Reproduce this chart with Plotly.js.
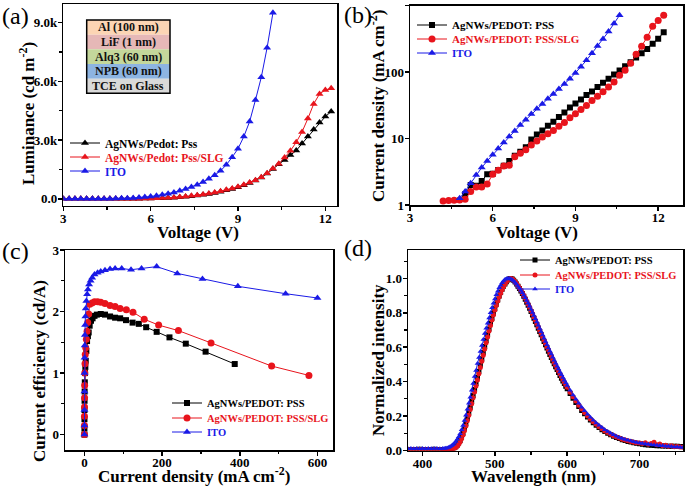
<!DOCTYPE html>
<html><head><meta charset="utf-8">
<script src="https://cdn.plot.ly/plotly-3.0.1.min.js"></script>
<style>html,body{margin:0;padding:0;background:#fff}#chart{width:685px;height:487px}</style>
</head><body><div id="chart"></div>
<script>
// ---------- (a) Luminance vs Voltage ----------
const aVoltage = [3.0,3.2,3.4,3.6,3.8,4.0,4.2,4.4,4.6,4.8,5.0,5.2,5.4,5.6,5.8,6.0,6.2,6.4,6.6,6.8,7.0,7.2,7.4,7.6,7.8,8.0,8.2,8.4,8.6,8.8,9.0,9.2,9.4,9.6,9.8,10.0,10.2,10.4,10.6,10.8,11.0,11.2,11.4,11.6,11.8,12.0,12.2];
const aLumPss = [0,0,0,0,0,0,0,0,0,0, 2,4,6,9,13,18,25,34,46,61,80,105,135,168,205,250,300,365,435,505,590,690,810,935,1090,1290,1530,1770,1990,2245,2466,2824,3181,3538,3895,4200,4457];
const aLumSlg = [0,0,0,0,0,0,0,0,0,0, 3,5,8,11,16,22,30,40,53,70,90,118,153,187,221,272,323,391,459,527,612,714,834,953,1106,1310,1548,1786,2110,2450,2892,3419,4100,4848,5358,5560,5647];
const aVoltageIto = [3.0,3.2,3.4,3.6,3.8,4.0,4.2,4.4,4.6,4.8,5.0,5.2,5.4,5.6,5.8,6.0,6.2,6.4,6.6,6.8,7.0,7.2,7.4,7.6,7.8,8.0,8.2,8.4,8.6,8.8,9.0,9.2,9.4,9.6,9.8,10.0,10.2];
const aLumIto = [0,0,0,0,0,2,4,6,9,13,25,35,48,65,90,120,160,205,260,330,410,500,600,720,860,1030,1210,1430,1740,2130,2560,3180,3950,5050,6210,7720,9500];
const layerNames = ['Al (100 nm)','LiF (1 nm)','Alq3 (60 nm)','NPB (60 nm)','TCE on Glass'];
const layerColors = ['#fcd5b4','#e6b8b7','#c4d79b','#8db4e2','#d9d9d9'];

// ---------- (b) Current density vs Voltage ----------
const bVoltagePss = [5.0,5.2,5.4,5.6,5.8,6.0,6.2,6.4,6.6,6.8,7.0,7.2,7.4,7.6,7.8,8.0,8.2,8.4,8.6,8.8,9.0,9.2,9.4,9.6,9.8,10.0,10.2,10.4,10.6,10.8,11.0,11.2,11.4,11.6,11.8,12.0,12.2];
const bJPss = [1.45,2.0,1.95,2.3,2.9,2.95,3.35,3.9,4.6,5.5,6.3,7.4,9.7,11.5,13.2,15.5,17.8,21,24.6,29.3,33.7,38.7,45,51,59.4,69,79,92,105,122,140,165,192,222,265,317,395];
const bVoltageSlg = [4.2,4.4,4.6,4.8,5.0,5.2,5.4,5.6,5.8,6.0,6.2,6.4,6.6,6.8,7.0,7.2,7.4,7.6,7.8,8.0,8.2,8.4,8.6,8.8,9.0,9.2,9.4,9.6,9.8,10.0,10.2,10.4,10.6,10.8,11.0,11.2,11.4,11.6,11.8,12.0,12.2];
const bJSlg = [1.15,1.17,1.18,1.19,1.22,1.6,1.87,1.87,2.07,2.9,3.33,3.87,3.96,5.3,6.0,6.75,8.0,9.2,10.5,11.8,13.2,15.3,17.4,20.5,23.5,27.4,31.4,37.4,43,50.5,59.4,70.6,89,106,135,185,244,333,488,594,715];
const bVoltageIto = [4.8,5.0,5.2,5.4,5.6,5.8,6.0,6.2,6.4,6.6,6.8,7.0,7.2,7.4,7.6,7.8,8.0,8.2,8.4,8.6,8.8,9.0,9.2,9.4,9.6,9.8,10.0,10.2,10.4,10.6];
const bJIto = [1.26,1.6,2.12,2.83,3.65,4.6,5.7,7.07,8.7,10.7,13,15.9,19.1,23.3,28,33,39.7,46.6,55.4,66,79,97,120,150,192,245,314,405,537,715];
const bTickVals = [1,10,100,1000];
const bTickText = ['1','10','100','1k'];

// ---------- (c) Current efficiency vs Current density ----------
const cJPss = [0.02,0.05,0.1,0.2,0.35,0.6,1.0,1.6,2.4,3.4,5,6.8,9,11,13.5,17,21,26,32,42,53,66,79,92,107,124,140,159,186,219,261,312,387];
const cEffPss = [0.0,0.1,0.25,0.4,0.55,0.7,0.85,1.0,1.1,1.2,1.36,1.52,1.6,1.66,1.77,1.85,1.89,1.93,1.95,1.96,1.95,1.92,1.90,1.89,1.86,1.82,1.80,1.745,1.67,1.58,1.478,1.348,1.147];
const cJSlg = [0.02,0.05,0.1,0.2,0.35,0.6,1.0,1.5,2.2,3.4,5,6.8,8.5,11,13.5,19.5,26,34,42,53,66,79,92,108,125,154,191,242,326,482,578];
const cEffSlg = [0.0,0.15,0.3,0.45,0.6,0.8,1.0,1.15,1.3,1.41,1.55,1.68,1.82,1.96,2.12,2.14,2.16,2.16,2.15,2.13,2.10,2.08,2.05,2.03,1.99,1.875,1.78,1.69,1.49,1.114,0.962];
const cJIto = [0.02,0.05,0.1,0.2,0.3,0.5,0.8,1.2,1.8,2.5,3.5,5,7,9,12,16,20,26,34,42,53,66,79,96,120,147,186,239,304,395,518,600];
const cEffIto = [0.0,0.15,0.4,0.7,1.0,1.25,1.45,1.62,1.78,1.92,2.05,2.17,2.28,2.36,2.44,2.5,2.55,2.6,2.63,2.65,2.67,2.69,2.70,2.70,2.68,2.70,2.73,2.62,2.53,2.41,2.29,2.22];

// ---------- (d) Normalized EL spectra ----------
const dWavelength = [380,384,388,392,396,400,404,408,412,416,420,424,428,
 430,432,434,436,438,440,442,444,446,448,
 450,452,454,456,458,460,462,464,466,468,
 470,472,474,476,478,480,482,484,486,488,
 490,492,494,496,498,500,502,504,506,508,
 510,512,514,516,518,520,522,524,526,528,
 530,532,534,536,538,540,542,544,546,548,
 550,552,554,556,558,560,562,564,566,568,
 570,572,574,576,578,580,582,584,586,588,
 590,592,594,596,598,600,
 604,608,612,616,620,624,628,632,636,640,
 644,648,652,656,660,664,668,672,676,680,
 684,688,692,696,700,704,708,712,716,720,
 724,728,732,736,740,744,748,752,756,760];
const dIntPss = [0.006,0.006,0.005,0.006,0.007,0.006,0.005,0.006,0.006,0.007,0.006,0.005,0.006,
 0.006,0.006,0.006,0.007,0.008,0.009,0.012,0.016,0.022,0.031,
 0.043,0.058,0.077,0.100,0.126,0.155,0.186,0.219,0.252,0.286,
 0.320,0.355,0.390,0.425,0.461,0.497,0.533,0.569,0.604,0.639,
 0.673,0.706,0.738,0.768,0.797,0.824,0.850,0.874,0.897,0.918,
 0.937,0.954,0.968,0.980,0.990,0.997,1.000,0.996,0.989,0.979,
 0.968,0.955,0.942,0.927,0.912,0.896,0.879,0.862,0.844,0.826,
 0.807,0.788,0.769,0.750,0.730,0.711,0.691,0.672,0.652,0.633,
 0.614,0.595,0.576,0.558,0.540,0.522,0.504,0.487,0.470,0.453,
 0.436,0.420,0.404,0.389,0.374,0.359,
 0.331,0.304,0.279,0.255,0.233,0.213,0.194,0.177,0.161,0.146,
 0.133,0.121,0.110,0.100,0.091,0.083,0.076,0.069,0.063,0.058,
 0.053,0.049,0.045,0.042,0.039,0.036,0.034,0.032,0.030,0.029,
 0.028,0.027,0.026,0.026,0.025,0.025,0.024,0.024,0.023,0.023];
const dIntSlg = [0.005,0.006,0.004,0.005,0.006,0.005,0.004,0.006,0.005,0.005,0.006,0.004,0.005,
 0.005,0.005,0.005,0.006,0.006,0.007,0.009,0.012,0.017,0.025,
 0.036,0.050,0.068,0.090,0.115,0.143,0.173,0.205,0.238,0.272,
 0.306,0.340,0.375,0.410,0.446,0.482,0.518,0.554,0.590,0.626,
 0.660,0.694,0.727,0.758,0.788,0.816,0.843,0.868,0.892,0.914,
 0.934,0.952,0.967,0.980,0.990,0.997,1.000,0.997,0.990,0.981,
 0.970,0.958,0.945,0.931,0.916,0.900,0.884,0.867,0.850,0.832,
 0.814,0.795,0.776,0.757,0.738,0.718,0.699,0.680,0.660,0.641,
 0.622,0.603,0.585,0.566,0.548,0.530,0.512,0.495,0.478,0.461,
 0.444,0.428,0.412,0.397,0.382,0.367,
 0.339,0.312,0.287,0.263,0.241,0.220,0.201,0.183,0.167,0.152,
 0.138,0.126,0.114,0.104,0.095,0.086,0.079,0.072,0.066,0.061,
 0.056,0.052,0.048,0.045,0.043,0.040,0.045,0.036,0.041,0.048,
 0.033,0.038,0.028,0.030,0.025,0.027,0.022,0.023,0.020,0.019];
const dIntIto = [0.010,0.012,0.010,0.011,0.010,0.012,0.010,0.011,0.010,0.012,0.011,0.010,0.012,
 0.012,0.013,0.015,0.018,0.022,0.027,0.034,0.042,0.052,0.065,
 0.080,0.098,0.120,0.145,0.175,0.205,0.240,0.275,0.310,0.350,
 0.390,0.430,0.465,0.505,0.540,0.575,0.610,0.645,0.680,0.710,
 0.740,0.770,0.800,0.830,0.855,0.880,0.905,0.925,0.945,0.960,
 0.975,0.985,0.993,0.998,1.000,1.000,0.997,0.992,0.985,0.976,
 0.966,0.955,0.943,0.930,0.916,0.902,0.887,0.871,0.855,0.838,
 0.820,0.802,0.784,0.766,0.747,0.728,0.709,0.690,0.671,0.652,
 0.633,0.614,0.596,0.578,0.560,0.542,0.524,0.507,0.490,0.473,
 0.456,0.440,0.424,0.408,0.393,0.378,
 0.350,0.323,0.298,0.274,0.252,0.231,0.211,0.193,0.176,0.160,
 0.146,0.133,0.121,0.110,0.100,0.091,0.083,0.076,0.070,0.064,
 0.059,0.055,0.051,0.047,0.044,0.041,0.038,0.036,0.034,0.032,
 0.030,0.028,0.027,0.025,0.024,0.023,0.021,0.020,0.019,0.018];

// ---------- styling ----------
const W = 685, H = 487;
const FONT = 'Liberation Serif, Times New Roman, serif';
const BLACK = '#000000', RED = '#e8141c', BLUE = '#1a1ae6';
const fx = v => v / W;
const fy = v => 1 - v / H;

function tr(x, y, xa, ya, color, symbol, size, name, legendId) {
  return {
    type: 'scatter', mode: 'lines+markers', x: x, y: y, xaxis: xa, yaxis: ya,
    name: name, legend: legendId, showlegend: true,
    line: {color: color, width: 1},
    marker: {color: color, symbol: symbol, size: size}
  };
}

const data = [
  tr(aVoltage, aLumPss, 'x', 'y', BLACK, 'triangle-up', 7, 'AgNWs/Pedot: Pss', 'legend'),
  tr(aVoltage, aLumSlg, 'x', 'y', RED, 'triangle-up', 7, 'AgNWs/Pedot: Pss/SLG', 'legend2'),
  tr(aVoltageIto, aLumIto, 'x', 'y', BLUE, 'triangle-up', 7, 'ITO', 'legend3'),
  tr(bVoltagePss, bJPss, 'x2', 'y2', BLACK, 'square', 6, 'AgNWs/PEDOT: PSS', 'legend4'),
  tr(bVoltageSlg, bJSlg, 'x2', 'y2', RED, 'circle', 7, 'AgNWs/PEDOT: PSS/SLG', 'legend5'),
  tr(bVoltageIto, bJIto, 'x2', 'y2', BLUE, 'triangle-up', 7, 'ITO', 'legend6'),
  tr(cJPss, cEffPss, 'x3', 'y3', BLACK, 'square', 6, 'AgNWs/PEDOT: PSS', 'legend7'),
  tr(cJSlg, cEffSlg, 'x3', 'y3', RED, 'circle', 7, 'AgNWs/PEDOT: PSS/SLG', 'legend8'),
  tr(cJIto, cEffIto, 'x3', 'y3', BLUE, 'triangle-up', 7, 'ITO', 'legend9'),
  tr(dWavelength, dIntPss, 'x4', 'y4', BLACK, 'square', 5, 'AgNWs/PEDOT: PSS', 'legend10'),
  tr(dWavelength, dIntSlg, 'x4', 'y4', RED, 'circle', 5, 'AgNWs/PEDOT: PSS/SLG', 'legend11'),
  tr(dWavelength, dIntIto, 'x4', 'y4', BLUE, 'triangle-up', 5, 'ITO', 'legend12')
];

function axis(domain, range, extra) {
  return Object.assign({
    domain: domain, range: range,
    showline: true, linewidth: 1.5, linecolor: '#000', mirror: true,
    ticks: 'outside', ticklen: 4, tickwidth: 1.5, tickcolor: '#000',
    showgrid: false, zeroline: false, ticklabelposition: 'outside',
    tickfont: {family: FONT, size: 13, weight: 'bold', color: '#000'},
    automargin: false
  }, extra);
}
const minor = d => ({ticks: 'outside', ticklen: 2.5, tickwidth: 1.2, tickcolor: '#000', dtick: d});

const layout = {
  width: W, height: H, margin: {l: 0, r: 0, t: 0, b: 0, autoexpand: false},
  paper_bgcolor: '#fff', plot_bgcolor: '#fff', showlegend: true,
  font: {family: FONT, color: '#000'},
  xaxis: axis([fx(63.3), fx(337)], [3, 12.4], {anchor: 'y', tick0: 3, dtick: 3, minor: minor(1.5), ticklabelstandoff: -4}),
  yaxis: axis([fy(205.7), fy(4)], [-350, 9950], {anchor: 'x', tick0: 0, dtick: 3000, tickformat: '.2s', minor: minor(1500), ticklabelstandoff: -2}),
  xaxis2: axis([fx(410), fx(683)], [3, 12.9], {anchor: 'y2', tick0: 3, dtick: 3, minor: minor(1.5), ticklabelstandoff: -4}),
  yaxis2: axis([fy(205), fy(5.5)], [0, 3], {anchor: 'x2', type: 'log', tickmode: 'array', tickvals: bTickVals, ticktext: bTickText, ticklabelstandoff: -2}),
  xaxis3: axis([fx(65), fx(333)], [-50, 640], {anchor: 'y3', tick0: 0, dtick: 200, minor: minor(100), ticklabelstandoff: -4}),
  yaxis3: axis([fy(450), fy(250)], [-0.25, 3], {anchor: 'x3', tick0: 0, dtick: 1, minor: minor(0.5), ticklabelstandoff: -2}),
  xaxis4: axis([fx(408), fx(683)], [380, 760], {anchor: 'y4', tick0: 400, dtick: 100, minor: minor(50), ticklabelstandoff: -4}),
  yaxis4: axis([fy(450.5), fy(250)], [0, 1.165], {anchor: 'x4', tick0: 0, dtick: 0.2, tickformat: '.1f', minor: minor(0.1), ticklabelstandoff: -2}),
  shapes: [],
  annotations: []
};

// axis titles placed at the reference positions
const TITLE_FONT = {family: FONT, size: 17, weight: 'bold', color: '#000'};
[
  ['Voltage (V)', 198, 233, 0],
  ['Luminance (cd m<sup>-2</sup>)', 27, 114, -90],
  ['Voltage (V)', 537, 233, 0],
  ['Current density (mA cm<sup>-2</sup>)', 377, 106, -90],
  ['Current density (mA cm<sup>-2</sup>)', 194, 475, 0],
  ['Current efficiency (cd/A)', 39, 371, -90],
  ['Wavelength (nm)', 533, 476, 0],
  ['Normalized intensity', 378, 360, -90]
].forEach(([t, x, y, ang]) => {
  layout.annotations.push({xref: 'paper', yref: 'paper', x: fx(x), y: fy(y), text: t, textangle: ang,
    showarrow: false, xanchor: 'center', yanchor: 'middle', font: TITLE_FONT});
});

// legends (one per series so each entry keeps its colour and row position)
const legendSpec = [
  ['legend', 105, 143, BLACK, 11.5], ['legend2', 105, 157, RED, 11.5], ['legend3', 105, 171, BLUE, 11.5],
  ['legend4', 452, 25, BLACK, 11], ['legend5', 452, 39, RED, 11], ['legend6', 452, 53, BLUE, 11],
  ['legend7', 207, 403, BLACK, 10.5], ['legend8', 207, 418, RED, 10.5], ['legend9', 207, 432, BLUE, 10.5],
  ['legend10', 555, 260, BLACK, 10.5], ['legend11', 555, 275, RED, 10.5], ['legend12', 555, 289, BLUE, 10.5]
];
legendSpec.forEach(([id, tx, ty, col, fs]) => {
  layout[id] = {
    x: fx(tx - 40), y: fy(ty), xanchor: 'left', yanchor: 'middle',
    bgcolor: 'rgba(0,0,0,0)', borderwidth: 0, visible: true,
    font: {family: FONT, size: fs, weight: 'bold', color: col},
    itemwidth: 30
  };
});

// layered device inset in (a)
const boxL = 86.7, boxR = 170, boxT = 20, rowH = 14.66;
layerNames.forEach((nm, i) => {
  const t = boxT + i * rowH;
  layout.shapes.push({type: 'rect', xref: 'paper', yref: 'paper', x0: fx(boxL), x1: fx(boxR), y0: fy(t + rowH), y1: fy(t),
    fillcolor: layerColors[i], line: {width: 0}, layer: 'above'});
  layout.annotations.push({xref: 'paper', yref: 'paper', x: fx((boxL + boxR) / 2), y: fy(t + rowH / 2),
    text: nm, showarrow: false, xanchor: 'center', yanchor: 'middle',
    font: {family: FONT, size: 12, weight: 'bold', color: '#111'}});
});
layout.shapes.push({type: 'rect', xref: 'paper', yref: 'paper', x0: fx(boxL), x1: fx(boxR), y0: fy(boxT + 5 * rowH), y1: fy(boxT),
  fillcolor: 'rgba(0,0,0,0)', line: {width: 1.5, color: '#000'}, layer: 'above'});

// panel labels
[['(a)', 16, 16], ['(b)', 358, 15], ['(c)', 16, 251], ['(d)', 358, 248]].forEach(([t, x, y]) => {
  layout.annotations.push({xref: 'paper', yref: 'paper', x: fx(x), y: fy(y), text: t, showarrow: false,
    xanchor: 'center', yanchor: 'middle', font: {family: FONT, size: 24, color: '#000'}});
});

Plotly.newPlot('chart', data, layout, {staticPlot: true, displayModeBar: false});
</script>
</body></html>
